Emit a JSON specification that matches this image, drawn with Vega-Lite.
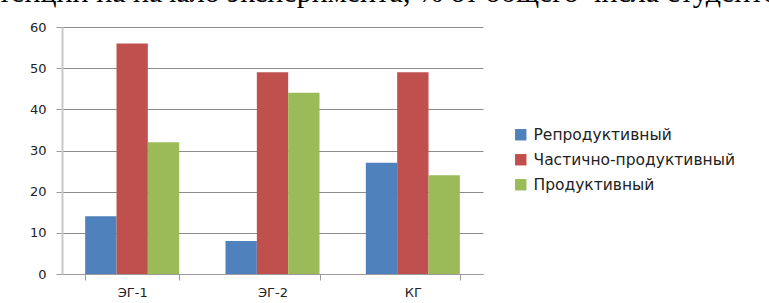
{
  "$schema": "https://vega.github.io/schema/vega-lite/v6.json",
  "autosize": "none",
  "width": 421,
  "height": 247,
  "padding": {"left": 62, "top": 27, "right": 286, "bottom": 29},
  "background": "white",
  "title": {
    "text": "тенции на начало эксперимента, % от общего числа студентов",
    "anchor": "start",
    "frame": "group",
    "font": "Liberation Serif",
    "fontSize": 30,
    "fontWeight": "normal",
    "color": "#000000",
    "limit": 2000,
    "dx": -64,
    "dy": -13,
    "offset": 0
  },
  "data": {
    "values": [
      {"group": "ЭГ-1", "level": "Репродуктивный", "value": 14},
      {"group": "ЭГ-1", "level": "Частично-продуктивный", "value": 56},
      {"group": "ЭГ-1", "level": "Продуктивный", "value": 32},
      {"group": "ЭГ-2", "level": "Репродуктивный", "value": 8},
      {"group": "ЭГ-2", "level": "Частично-продуктивный", "value": 49},
      {"group": "ЭГ-2", "level": "Продуктивный", "value": 44},
      {"group": "КГ", "level": "Репродуктивный", "value": 27},
      {"group": "КГ", "level": "Частично-продуктивный", "value": 49},
      {"group": "КГ", "level": "Продуктивный", "value": 24}
    ]
  },
  "mark": {"type": "bar"},
  "encoding": {
    "x": {
      "field": "group",
      "type": "nominal",
      "sort": ["ЭГ-1", "ЭГ-2", "КГ"],
      "scale": {"paddingInner": 0.33, "paddingOuter": 0.165},
      "axis": {
        "title": null,
        "labelAngle": 0,
        "labelFont": "DejaVu Sans",
        "labelFontSize": 13,
        "labelColor": "#222222",
        "labelPadding": 6,
        "domainColor": "#9a9a9a",
        "domainWidth": 1,
        "tickBand": "extent",
        "tickColor": "#9a9a9a",
        "tickSize": 6,
        "grid": false
      }
    },
    "xOffset": {
      "field": "level",
      "type": "nominal",
      "sort": ["Репродуктивный", "Частично-продуктивный", "Продуктивный"]
    },
    "y": {
      "field": "value",
      "type": "quantitative",
      "scale": {"domain": [0, 60], "nice": false},
      "axis": {
        "title": null,
        "values": [0, 10, 20, 30, 40, 50, 60],
        "labelFont": "DejaVu Sans",
        "labelFontSize": 13,
        "labelColor": "#222222",
        "labelPadding": 10,
        "domainColor": "#c8c8c8",
        "domainWidth": 2,
        "tickColor": "#9a9a9a",
        "tickSize": 6,
        "gridColor": "#8c8c8c",
        "gridWidth": 1
      }
    },
    "color": {
      "field": "level",
      "type": "nominal",
      "sort": ["Репродуктивный", "Частично-продуктивный", "Продуктивный"],
      "scale": {
        "domain": ["Репродуктивный", "Частично-продуктивный", "Продуктивный"],
        "range": ["#4F81BD", "#C0504D", "#9BBB59"]
      },
      "legend": {
        "title": null,
        "orient": "none",
        "legendX": 451,
        "legendY": 100,
        "symbolType": "square",
        "symbolSize": 130,
        "symbolStrokeWidth": 0,
        "labelFont": "DejaVu Sans",
        "labelFontSize": 15.5,
        "labelColor": "#222222",
        "rowPadding": 8,
        "labelOffset": 5,
        "labelLimit": 300
      }
    }
  },
  "config": {
    "view": {"stroke": null}
  }
}
